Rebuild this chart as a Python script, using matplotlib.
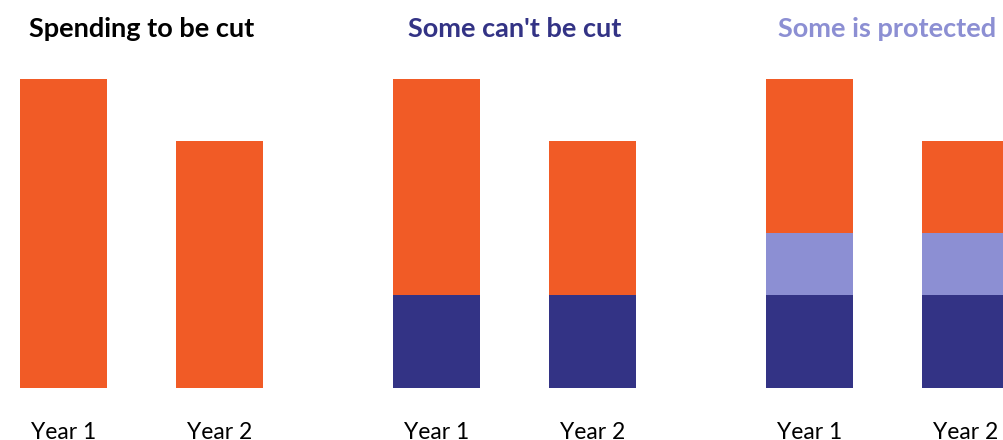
import matplotlib
matplotlib.use("Agg")
import matplotlib.pyplot as plt

# data (spending units, Year 1 total = 100)
years = ["Year 1", "Year 2"]
total = [100, 80]
cant_cut = [30, 30]
protected = [20, 20]
titles = ["Spending to be cut", "Some can't be cut", "Some is protected"]

orange = "#F15B26"
navy = "#333385"
lilac = "#8C8FD3"
title_colors = ["black", navy, lilac]

plt.rcParams["font.family"] = ["Lato", "DejaVu Sans"]

W, H = 1004, 440
fig = plt.figure(figsize=(W / 100, H / 100), dpi=100)

# pixel layout of each panel
panel_step = 373
ax_w, ax_h = 312, 308.5
ax_bottom = 52.5

for p in range(3):
    left = -14.5 + p * panel_step
    ax = fig.add_axes([left / W, ax_bottom / H, ax_w / W, ax_h / H])
    x = range(len(years))
    if p == 0:
        ax.bar(x, total, width=0.56, color=orange)
    elif p == 1:
        ax.bar(x, cant_cut, width=0.56, color=navy)
        rest = [t - c for t, c in zip(total, cant_cut)]
        ax.bar(x, rest, width=0.56, bottom=cant_cut, color=orange)
    else:
        ax.bar(x, cant_cut, width=0.56, color=navy)
        ax.bar(x, protected, width=0.56, bottom=cant_cut, color=lilac)
        base = [c + pr for c, pr in zip(cant_cut, protected)]
        rest = [t - b for t, b in zip(total, base)]
        ax.bar(x, rest, width=0.56, bottom=base, color=orange)
    ax.set_xlim(-0.5, 1.5)
    ax.set_ylim(0, 100)
    ax.set_xticks(list(x))
    ax.set_xticklabels(years, fontsize=16.5)
    ax.tick_params(axis="x", length=0, pad=25)
    ax.set_yticks([])
    for s in ax.spines.values():
        s.set_visible(False)
    ax.set_title(titles[p], fontsize=19.5, fontweight="bold",
                 color=title_colors[p], pad=30)

fig.savefig("out.png", dpi=100)
